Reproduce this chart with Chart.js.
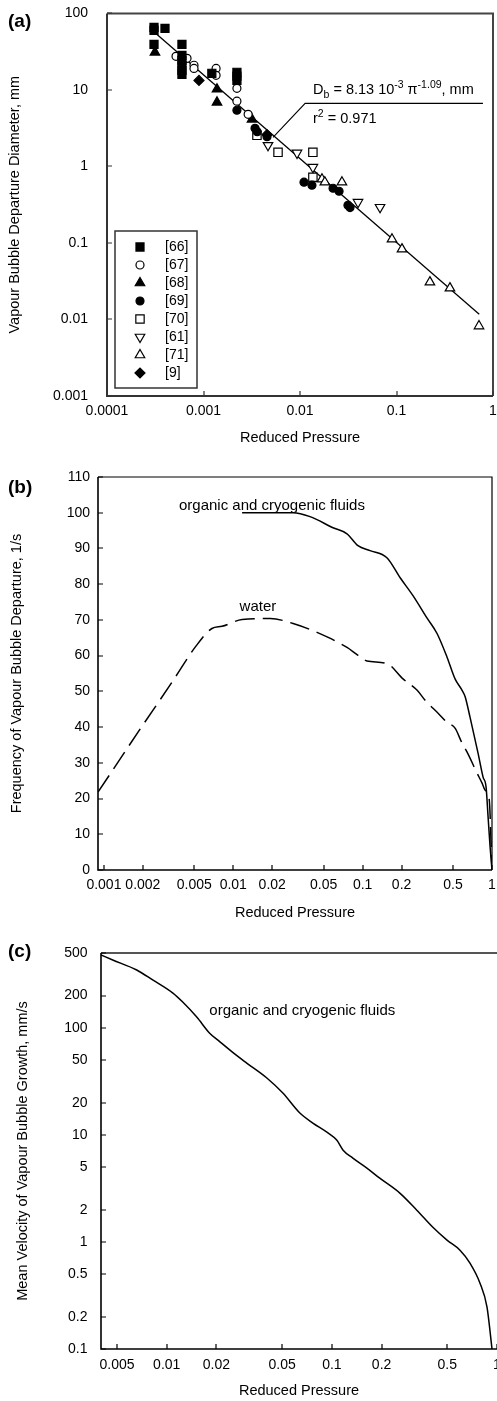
<!DOCTYPE html>
<html>
<head>
<meta charset="utf-8">
<title>Vapour bubble departure</title>
<script src="https://cdn.jsdelivr.net/npm/chart.js@4.4.1/dist/chart.umd.min.js"></script>
<style>
  html, body { margin: 0; padding: 0; background: #fff; width: 497px; height: 1401px; overflow: hidden; position: relative; }
  canvas { position: absolute; left: 0; }
  #chartA { top: -14px; }
  #chartB { top: 455px; }
  #chartC { top: 930px; }
</style>
</head>
<body>
<canvas id="chartA" width="520" height="464"></canvas>
<canvas id="chartB" width="520" height="470"></canvas>
<canvas id="chartC" width="520" height="471"></canvas>
<script>
const FONT = '"Liberation Sans", Arial, Helvetica, sans-serif';
Chart.defaults.font.family = FONT;
Chart.defaults.color = '#000';

// (a) departure diameter, [reduced pressure, diameter in mm]
const src66 = [[3.07e-4, 65.6], [3.07e-4, 60], [3.99e-4, 63.7], [3.07e-4, 39.4], [5.98e-4, 39.4],
  [5.98e-4, 28.3], [5.98e-4, 24.3], [5.98e-4, 21], [5.98e-4, 18], [5.98e-4, 16],
  [1.22e-3, 16.5], [2.22e-3, 17], [2.22e-3, 15.1], [2.22e-3, 13.3]];
const src67 = [[5.19e-4, 27.5], [6.75e-4, 25.9], [7.97e-4, 21], [7.97e-4, 19.1], [1.35e-3, 19.1],
  [1.35e-3, 15.5], [2.22e-3, 10.5], [2.22e-3, 7.13], [2.9e-3, 4.8]];
const src68 = [[3.14e-4, 31], [1.38e-3, 10.2], [1.38e-3, 6.89], [3.18e-3, 4.13]];
const src69 = [[2.22e-3, 5.42], [3.42e-3, 3.15], [3.6e-3, 2.85], [4.55e-3, 2.45], [0.011, 0.622],
  [0.0133, 0.569], [0.022, 0.519], [0.0254, 0.474], [0.0314, 0.311], [0.033, 0.29]];
const src70 = [[3.58e-3, 2.55], [5.92e-3, 1.53], [0.0136, 1.53], [0.0136, 0.723]];
const src61 = [[4.66e-3, 1.89], [9.31e-3, 1.5], [0.0136, 0.977], [0.0399, 0.341], [0.0675, 0.293]];
const src71 = [[0.0169, 0.681], [0.0181, 0.622], [0.0272, 0.622], [0.0898, 0.112], [0.114, 0.083],
  [0.222, 0.0308], [0.358, 0.0257], [0.716, 0.0082]];
const src9 = [[8.98e-4, 13.3], [4.55e-3, 2.6]];
const fitLine = [[3.3e-4, 53], [0.72, 0.0117]];
const leaderLine = [[5.25e-3, 2.4], [0.0113, 6.68], [0.787, 6.68]];
const ticksAx = [0.0001, 0.001, 0.01, 0.1, 1];
const ticksAy = [0.001, 0.01, 0.1, 1, 10, 100];

// (b) departure frequency, 1/s
const prOrganic = [0.0117, 0.029, 0.0392, 0.059, 0.0757, 0.092, 0.114, 0.154, 0.195, 0.245, 0.315,
  0.376, 0.45, 0.518, 0.587, 0.62, 0.677, 0.78, 0.853, 0.9, 0.933, 0.967, 1];
const freqOrganic = [100, 100, 98.9, 95.8, 94.1, 90.8, 89.4, 87.4, 81.8, 76.8, 70.5,
  66.2, 59.5, 53.5, 50.3, 48.5, 42.7, 32.7, 26, 23.2, 14.8, 6.4, 0];
const prWater = [0.0009, 0.00183, 0.00342, 0.00506, 0.00684, 0.00818, 0.0117, 0.0193, 0.029, 0.0444,
  0.0757, 0.0905, 0.108, 0.154, 0.205, 0.264, 0.304, 0.383, 0.45, 0.518, 0.587, 0.642, 0.767,
  0.838, 0.885, 0.95, 1];
const freqWater = [21.8, 38.5, 53, 62.3, 67.6, 68.2, 70.1, 70.4, 69, 66.5,
  62.3, 60.3, 58.5, 57.8, 53.5, 50.3, 47.5, 43.9, 41.3, 39.7, 35.5, 33, 27.1,
  24.3, 22.3, 20, 0];
const ticksBx = [0.001, 0.002, 0.005, 0.01, 0.02, 0.05, 0.1, 0.2, 0.5, 1];

// (c) mean growth velocity, mm/s
const prC = [0.004, 0.00471, 0.00658, 0.00822, 0.0109, 0.0125, 0.0152, 0.0182, 0.021, 0.0251,
  0.0305, 0.0404, 0.0505, 0.064, 0.0767, 0.0933, 0.107, 0.117, 0.134, 0.163, 0.195, 0.258,
  0.327, 0.409, 0.498, 0.597, 0.686, 0.789, 0.87, 0.933];
const velC = [479, 430, 347, 280, 211, 174, 126, 89, 74, 59,
  46.9, 34, 24.6, 16, 12.9, 10.6, 8.94, 7.2, 6.07, 4.9, 3.94, 2.86,
  1.98, 1.37, 1.04, 0.838, 0.634, 0.412, 0.246, 0.1];
const ticksCx = [0.005, 0.01, 0.02, 0.05, 0.1, 0.2, 0.5, 1];
const ticksCy = [0.1, 0.2, 0.5, 1, 2, 5, 10, 20, 50, 100, 200, 500];

const pairs = arr => arr.map(p => ({ x: p[0], y: p[1] }));
const zip = (xs, ys) => xs.map((x, i) => ({ x, y: ys[i] }));

// inner ticks and the box round the plot
const frame = {
  id: 'frame',
  afterDraw(chart, args, o) {
    const { ctx, chartArea: a } = chart;
    const xs = chart.scales.x, ys = chart.scales.y;
    ctx.save();
    ctx.strokeStyle = o.frameColor;
    ctx.lineWidth = o.frameWidth;
    ctx.beginPath();
    ctx.moveTo(a.left, a.top);
    ctx.lineTo(a.right, a.top);
    if (o.right !== false) ctx.lineTo(a.right, a.bottom);
    ctx.stroke();
    ctx.strokeStyle = o.axisColor;
    ctx.lineWidth = o.axisWidth;
    ctx.beginPath();
    ctx.moveTo(a.left, a.top);
    ctx.lineTo(a.left, a.bottom);
    ctx.lineTo(a.right, a.bottom);
    ctx.stroke();
    ctx.lineWidth = 1.2;
    ctx.beginPath();
    xs.ticks.forEach(t => {
      const p = Math.round(xs.getPixelForValue(t.value));
      ctx.moveTo(p, a.bottom);
      ctx.lineTo(p, a.bottom - o.tickLen);
    });
    ys.ticks.forEach(t => {
      const p = Math.round(ys.getPixelForValue(t.value));
      ctx.moveTo(a.left, p);
      ctx.lineTo(a.left + o.tickLen, p);
    });
    ctx.stroke();
    ctx.restore();
  }
};

// free text: panel letter, curve labels, equation
const notes = {
  id: 'notes',
  afterDraw(chart, args, o) {
    const { ctx } = chart;
    const xs = chart.scales.x, ys = chart.scales.y;
    ctx.save();
    ctx.fillStyle = '#000';
    ctx.textBaseline = 'middle';
    ctx.textAlign = 'left';
    ctx.font = 'bold 19px ' + FONT;
    ctx.fillText(o.panel, o.panelX, o.panelY);
    (o.items || []).forEach(n => {
      ctx.font = '15px ' + FONT;
      ctx.textAlign = n.align || 'left';
      ctx.fillText(n.text, xs.getPixelForValue(n.x), ys.getPixelForValue(n.y));
    });
    ctx.textAlign = 'left';
    ctx.textBaseline = 'alphabetic';
    (o.rich || []).forEach(r => {
      let px = xs.getPixelForValue(r.x);
      const base = ys.getPixelForValue(r.y) + 5;
      r.parts.forEach(([t, dy, size]) => {
        ctx.font = size + 'px ' + FONT;
        ctx.fillText(t, px, base + dy);
        px += ctx.measureText(t).width;
      });
    });
    ctx.restore();
  }
};

// boxed legend in the lower left of panel (a)
const boxLegend = {
  id: 'boxLegend',
  afterDraw(chart) {
    const { ctx, chartArea: a } = chart;
    const sets = chart.data.datasets.filter(d => d.label);
    const w = 82, h = 16 + 18 * (sets.length - 1) + 15;
    const bx = a.left + 8, by = a.bottom - 8 - h;
    ctx.save();
    ctx.fillStyle = '#fff';
    ctx.fillRect(bx, by, w, h);
    ctx.strokeStyle = '#333';
    ctx.lineWidth = 1.5;
    ctx.strokeRect(bx, by, w, h);
    sets.forEach((d, i) => {
      const y = by + 16 + 18 * i;
      ctx.fillStyle = d.pointBackgroundColor;
      ctx.strokeStyle = d.pointBorderColor;
      ctx.lineWidth = d.pointBorderWidth;
      if (Chart.helpers && Chart.helpers.drawPoint) {
        Chart.helpers.drawPoint(ctx, {
          pointStyle: d.pointStyle, rotation: d.pointRotation || 0,
          radius: d.pointRadius, borderWidth: d.pointBorderWidth
        }, bx + 25, y);
      }
      ctx.fillStyle = '#000';
      ctx.font = '14px ' + FONT;
      ctx.textBaseline = 'middle';
      ctx.fillText(d.label, bx + 50, y);
    });
    ctx.restore();
  }
};

function marker(label, pts, style, filled, radius, rotation) {
  return {
    label,
    data: pairs(pts),
    pointStyle: style,
    pointRotation: rotation || 0,
    pointRadius: radius,
    pointBackgroundColor: filled ? '#000' : '#fff',
    pointBorderColor: '#000',
    pointBorderWidth: 1.2,
    showLine: false
  };
}

function logAxis(min, max, values, pad, title, titlePad) {
  return {
    type: 'logarithmic',
    min, max,
    afterBuildTicks: s => { s.ticks = values.map(v => ({ value: v })); },
    grid: { display: false, drawTicks: false },
    border: { display: false },
    ticks: { padding: pad, autoSkip: false, maxRotation: 0, minRotation: 0,
      font: { size: 14 }, callback: v => String(v) },
    title: { display: true, text: title, font: { size: 14.5 }, padding: titlePad }
  };
}

const common = {
  responsive: false,
  animation: false,
  events: [],
  plugins: { legend: { display: false }, tooltip: { enabled: false } }
};

// (a)
const axAx = logAxis(1e-4, 1, ticksAx, 7, 'Reduced Pressure', { top: 0, bottom: 3.3 });
axAx.afterFit = s => { s.height = 54; };
const axAy = logAxis(0.001, 100, ticksAy, 19, 'Vapour Bubble Departure Diameter, mm', { top: 6, bottom: 0 });
axAy.afterFit = s => { s.width = 107; };

new Chart(document.getElementById('chartA'), {
  type: 'scatter',
  data: {
    datasets: [
      marker('[66]', src66, 'rect', true, 5.7),
      marker('[67]', src67, 'circle', false, 4),
      marker('[68]', src68, 'triangle', true, 5.5),
      marker('[69]', src69, 'circle', true, 4),
      marker('[70]', src70, 'rect', false, 5.9),
      marker('[61]', src61, 'triangle', false, 5.5, 180),
      marker('[71]', src71, 'triangle', false, 5.5),
      marker('[9]', src9, 'rectRot', true, 5),
      { data: pairs(fitLine), showLine: true, pointRadius: 0, borderColor: '#000', borderWidth: 1.3 },
      { data: pairs(leaderLine), showLine: true, pointRadius: 0, borderColor: '#000', borderWidth: 1.1 }
    ]
  },
  options: {
    ...common,
    layout: { padding: { left: 0, right: 27, top: 27, bottom: 0 } },
    scales: { x: axAx, y: axAy },
    plugins: {
      ...common.plugins,
      frame: { frameColor: '#444', frameWidth: 2, axisColor: '#333', axisWidth: 2, tickLen: 5 },
      notes: {
        panel: '(a)', panelX: 8, panelY: 36,
        rich: [
          { x: 0.01365, y: 10.2, parts: [['D', 0, 14.5], ['b', 4, 10.5], [' = 8.13 10', 0, 14.5], ['-3', -6, 10.5],
            [' \u03c0', 0, 14.5], ['-1.09', -6, 10.5], [', mm', 0, 14.5]] },
          { x: 0.01365, y: 4.26, parts: [['r', 0, 14.5], ['2', -6, 10.5], [' = 0.971', 0, 14.5]] }
        ]
      }
    }
  },
  plugins: [frame, notes, boxLegend]
});

// (b)
const axBx = logAxis(0.0009, 1, ticksBx, 7, 'Reduced Pressure', { top: 0, bottom: 3.3 });
axBx.afterFit = s => { s.height = 55; };

new Chart(document.getElementById('chartB'), {
  type: 'scatter',
  data: {
    datasets: [
      { data: zip(prOrganic, freqOrganic), showLine: true, pointRadius: 0, borderColor: '#000',
        borderWidth: 1.5, cubicInterpolationMode: 'monotone' },
      { data: zip(prWater, freqWater), showLine: true, pointRadius: 0, borderColor: '#000',
        borderWidth: 1.5, borderDash: [20, 8], cubicInterpolationMode: 'monotone' }
    ]
  },
  options: {
    ...common,
    layout: { padding: { left: 0, right: 28, top: 22, bottom: 0 } },
    scales: {
      x: axBx,
      y: {
        type: 'linear', min: 0, max: 110,
        afterFit: s => { s.width = 98; },
        grid: { display: false, drawTicks: false },
        border: { display: false },
        ticks: { stepSize: 10, padding: 8, font: { size: 14 } },
        title: { display: true, text: 'Frequency of Vapour Bubble Departure, 1/s', font: { size: 14.5 },
          padding: { top: 8, bottom: 0 } }
      }
    },
    plugins: {
      ...common.plugins,
      frame: { frameColor: '#000', frameWidth: 1.2, axisColor: '#000', axisWidth: 1.6, tickLen: 5 },
      notes: {
        panel: '(b)', panelX: 8, panelY: 33,
        items: [
          { x: 0.0199, y: 102, text: 'organic and cryogenic fluids', align: 'center' },
          { x: 0.0155, y: 73.7, text: 'water', align: 'center' }
        ]
      }
    }
  },
  plugins: [frame, notes]
});

// (c)
const axCx = logAxis(0.004, 1, ticksCx, 8, 'Reduced Pressure', { top: 0, bottom: 1.3 });
axCx.afterFit = s => { s.height = 52; };
const axCy = logAxis(0.1, 500, ticksCy, 13.5, 'Mean Velocity of Vapour Bubble Growth, mm/s', { top: 14, bottom: 0 });
axCy.afterFit = s => { s.width = 101; };

new Chart(document.getElementById('chartC'), {
  type: 'scatter',
  data: {
    datasets: [
      { data: zip(prC, velC), showLine: true, pointRadius: 0, borderColor: '#000',
        borderWidth: 1.5, cubicInterpolationMode: 'monotone' }
    ]
  },
  options: {
    ...common,
    layout: { padding: { left: 0, right: 23, top: 23, bottom: 0 } },
    scales: { x: axCx, y: axCy },
    plugins: {
      ...common.plugins,
      frame: { frameColor: '#555', frameWidth: 2, axisColor: '#000', axisWidth: 1.6, tickLen: 5, right: false },
      notes: {
        panel: '(c)', panelX: 8, panelY: 22,
        items: [
          { x: 0.0662, y: 143.5, text: 'organic and cryogenic fluids', align: 'center' }
        ]
      }
    }
  },
  plugins: [frame, notes]
});
</script>
</body>
</html>
